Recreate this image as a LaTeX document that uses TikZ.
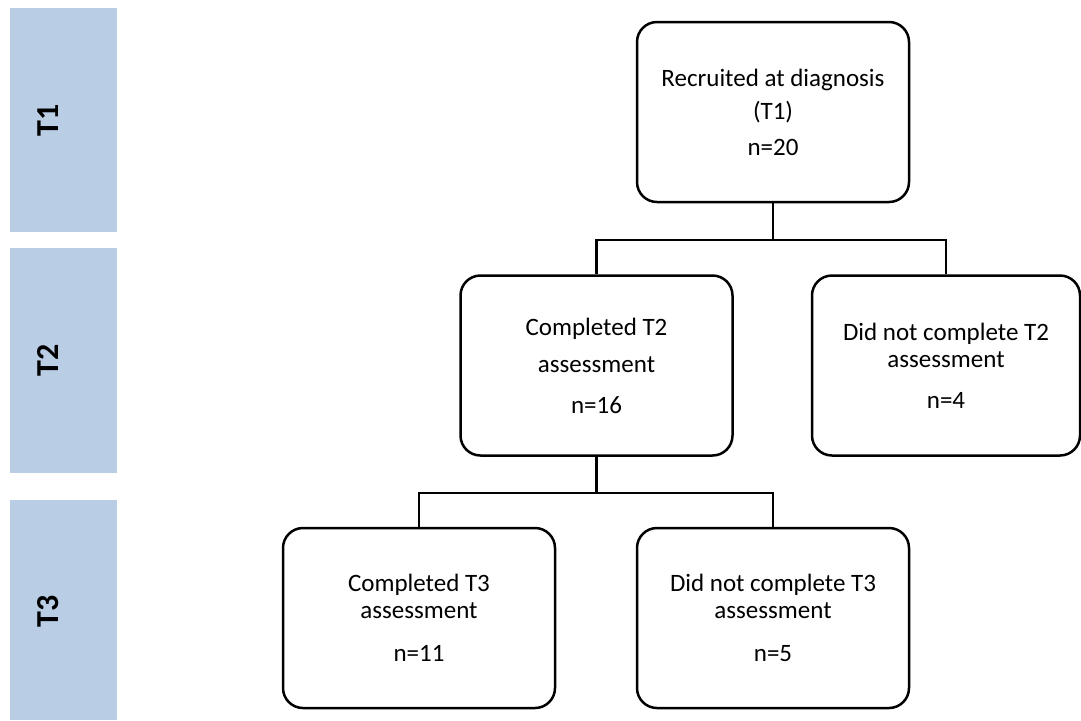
\documentclass[tikz,border=0pt]{standalone}
\usepackage{fontspec}
\setmainfont{Carlito}
\usetikzlibrary{positioning, calc}
\definecolor{cbar}{HTML}{B9CDE5}
\tikzset{
  every picture/.style={line width=1.25pt},
  flowbox/.style={draw=black, rounded corners=10pt, align=center, minimum width=136pt, minimum height=90pt, inner sep=4pt, font=\fontsize{12.5}{13.5}\selectfont},
  phase/.style={fill=cbar, draw=none, minimum width=53.5pt, inner sep=0pt},
  phaselabel/.style={rotate=90, font=\fontsize{16}{18}\selectfont\bfseries},
  link/.style={draw=black, line width=1.4pt},
}

\begin{document}
\begin{tikzpicture}[x=0.5pt, y=-0.5pt]
  \useasboundingbox (0,0) rectangle (1081,720);
  % ---------- phase bars ----------
  \node[phase, minimum height=112pt] (barT1) at (63.5,120) {};
  \node[phase, minimum height=112.5pt] (barT2) at (63.5,360.5) {};
  \node[phase, minimum height=110pt] (barT3) at (63.5,610) {};
  \node[phaselabel] (labT1) at (48,120) {T1};
  \node[phaselabel] (labT2) at (48,360) {T2};
  \node[phaselabel] (labT3) at (48,611) {T3};
  % ---------- flow ----------
  \node[flowbox] (recruit) at (773,112) {Recruited at diagnosis\\[3pt](T1)\\[4.5pt]n=20};
  \node[flowbox] (compT2) at (596.5,365.5) {Completed T2\\[5pt]assessment\\[7pt]n=16};
  \node[flowbox, minimum width=134pt] (missT2) at (946,365.5) {Did not complete T2\\assessment\\[7pt]n=4};
  \node[flowbox] (compT3) at (419,618) {Completed T3\\assessment\\[8pt]n=11};
  \node[flowbox] (missT3) at (773,618) {Did not complete T3\\assessment\\[8pt]n=5};
  \coordinate (split1) at (773,240);
  \coordinate (split2) at (596.5,493);
  \draw[link] (recruit.south) -- (split1) -| (compT2.north);
  \draw[link] (split1) -| (missT2.north);
  \draw[link] (compT2.south) -- (split2) -| (compT3.north);
  \draw[link] (split2) -| (missT3.north);
\end{tikzpicture}
\end{document}
